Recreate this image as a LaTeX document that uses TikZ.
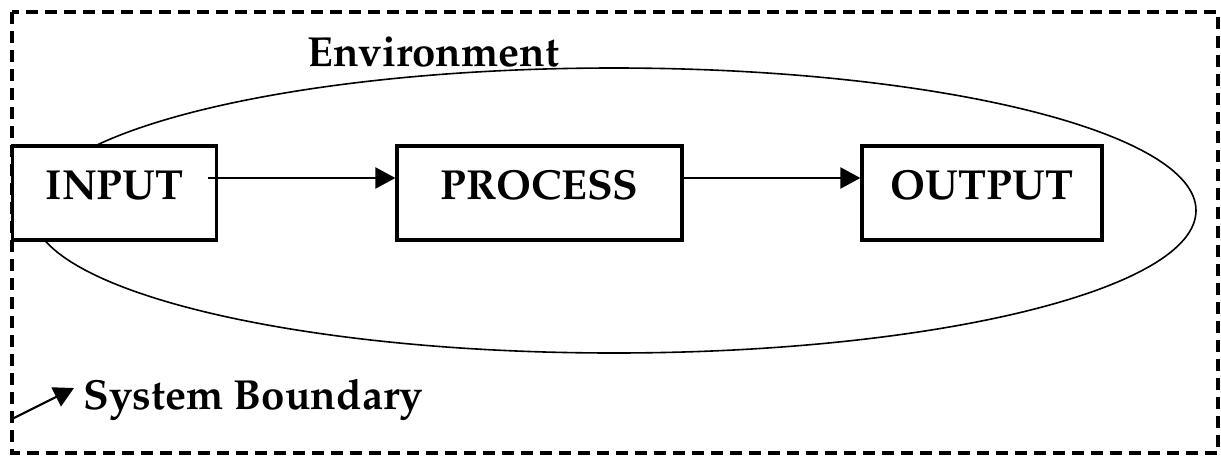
\documentclass[tikz,border=0pt]{standalone}
\usepackage[T1]{fontenc}
\renewcommand{\rmdefault}{ppl}
\usetikzlibrary{arrows.meta}

\tikzset{
  lbl/.style={font=\fontsize{21}{25}\selectfont\bfseries, inner sep=0pt},
  stagebox/.style={draw, fill=white, line width=1.6pt, inner sep=0pt,
    text height=26.5pt, text depth=20.5pt, align=center,
    font=\fontsize{21}{25}\selectfont\bfseries},
  flow/.style={line width=1.1pt, -{Triangle[length=10pt,width=10.5pt]}},
  boundary/.style={line width=1.8pt, dash pattern=on 6pt off 3.5pt},
  envline/.style={line width=0.8pt}
}

\begin{document}
\begin{tikzpicture}[x=0.5pt, y=-0.5pt]
  \useasboundingbox (0,0) rectangle (1221,456);

  % system boundary
  \draw[boundary] (12,12) rectangle (1218,453);

  % environment oval
  \draw[envline] (614,210.5) ellipse [x radius=291pt, y radius=71.25pt];
  \node[lbl, anchor=base west] (env) at (307,66) {Environment};

  % the three stages
  \node[stagebox, minimum width=102pt] (in)   at (114.5,193) {INPUT};
  \node[stagebox, minimum width=142.5pt] (proc) at (539.5,193) {PROCESS};
  \node[stagebox, minimum width=120pt] (out)  at (982,193) {OUTPUT};

  \draw[flow] ([xshift=-5pt,yshift=7.5pt]in.east) -- ([yshift=7.5pt]proc.west);
  \draw[flow] ([yshift=7.5pt]proc.east) -- ([yshift=7.5pt]out.west);

  % boundary label with its pointer
  \coordinate (sbfrom) at (12,419);
  \coordinate (sbto) at (74,388);
  \draw[flow] (sbfrom) -- (sbto);
  \node[lbl, anchor=base west] (sb) at (83,409) {System Boundary};
\end{tikzpicture}
\end{document}
